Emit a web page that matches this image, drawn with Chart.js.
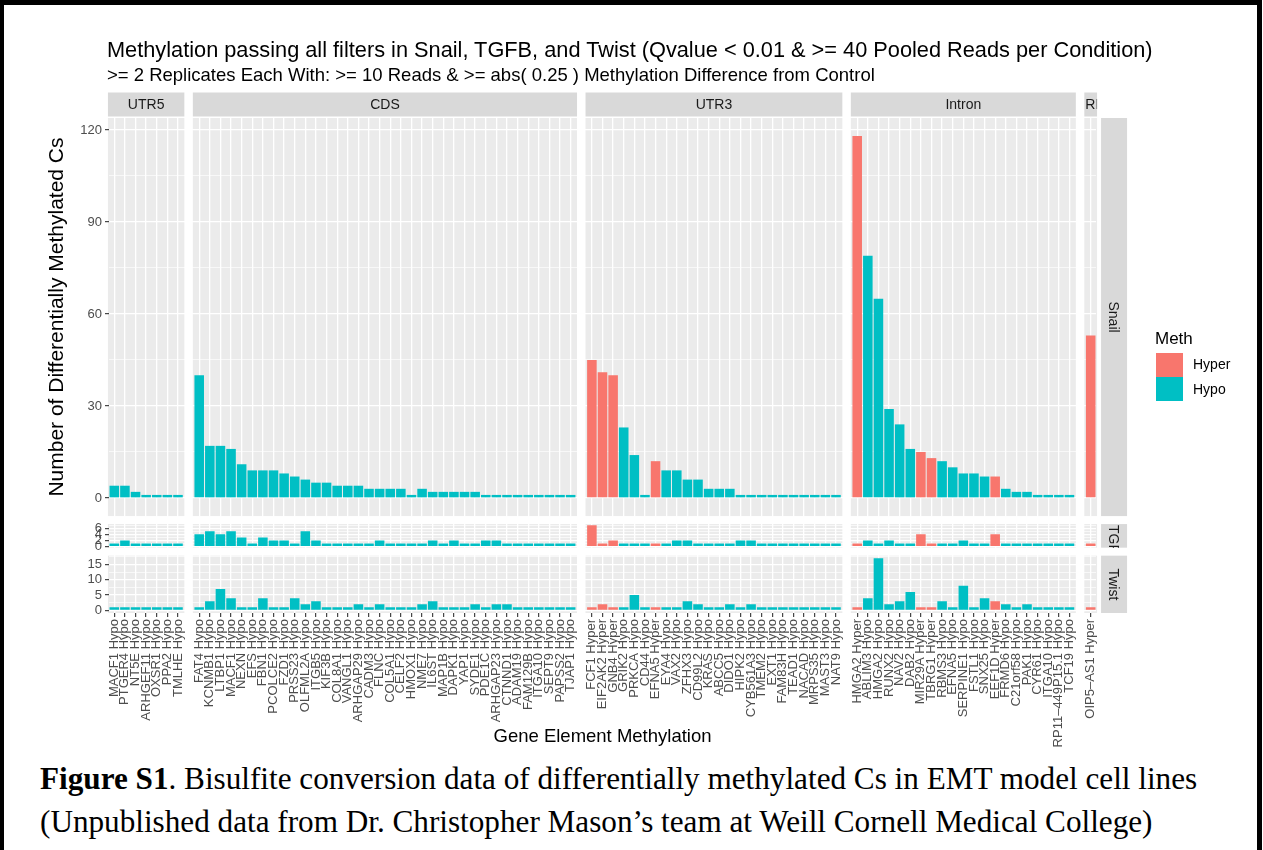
<!DOCTYPE html>
<html>
<head>
<meta charset="utf-8">
<title>Methylation passing all filters</title>
<script src="https://cdn.jsdelivr.net/npm/chart.js@4.4.1/dist/chart.umd.min.js"></script>
<style>
  body { margin: 0; background: #fff; }
  #page {
    position: relative; width: 1263px; height: 850px; overflow: hidden; background: #fff;
    font-family: "Liberation Sans", Arial, sans-serif;
  }
  #frame {
    position: absolute; left: 0; top: 0; width: 1253px; height: 860px;
    border-top: 5px solid #000; border-left: 4px solid #000; border-right: 5px solid #000;
    pointer-events: none;
  }
  #methChart { position: absolute; left: 0; top: 0; }
  .txt { position: absolute; white-space: nowrap; line-height: 1; color: #000; }
  #title { left: 107px; top: 39px; font-size: 21.75px; }
  #subtitle { left: 107px; top: 66px; font-size: 18.5px; }
  #legendTitle { left: 1155px; top: 330px; font-size: 17px; }
  .key { position: absolute; left: 1156px; width: 27px; height: 24px; }
  .keyLabel { left: 1193px; font-size: 14px; }
  .caption { position: absolute; left: 40px; white-space: nowrap; line-height: 1;
    font-family: "Liberation Serif", "Times New Roman", serif; font-size: 31.2px; color: #000; }
</style>
</head>
<body>
<div id="page">
  <canvas id="methChart" width="1263" height="752" style="width:1263px;height:752px"></canvas>
  <div class="txt" id="title">Methylation passing all filters in Snail, TGFB, and Twist (Qvalue &lt; 0.01 &amp; &gt;= 40 Pooled Reads per Condition)</div>
  <div class="txt" id="subtitle">&gt;= 2 Replicates Each With: &gt;= 10 Reads &amp; &gt;= abs( 0.25 ) Methylation Difference from Control</div>
  <div class="txt" id="legendTitle">Meth</div>
  <div class="key" id="keyHyper" style="top:353px"></div>
  <div class="key" id="keyHypo" style="top:377px"></div>
  <div class="txt keyLabel" style="top:357px">Hyper</div>
  <div class="txt keyLabel" style="top:382px">Hypo</div>
  <div class="caption" style="top:763px"><b>Figure S1</b>. Bisulfite conversion data of differentially methylated Cs in EMT model cell lines</div>
  <div class="caption" style="top:806px">(Unpublished data from Dr. Christopher Mason’s team at Weill Cornell Medical College)</div>
  <div id="frame"></div>
</div>
<script>
// counts of differentially methylated Cs, one array per gene element and cell line
const utr5Genes = ["MACF1 Hypo", "PTGER4 Hypo", "NT5E Hypo", "ARHGEF11 Hypo", "OXSR1 Hypo", "PPA2 Hypo", "TMLHE Hypo"];
const utr5Snail = [4, 4, 2, 1, 1, 1, 1];
const utr5Tgfb = [1, 2, 1, 1, 1, 1, 1];
const utr5Twist = [1, 1, 1, 1, 1, 1, 1];

const cdsGenes = ["FAT4 Hypo", "KCNMB1 Hypo", "LTBP1 Hypo", "MACF1 Hypo", "NEXN Hypo", "EFS Hypo",
  "FBN1 Hypo", "PCOLCE2 Hypo", "FZD1 Hypo", "PRSS23 Hypo", "OLFML2A Hypo", "ITGB5 Hypo",
  "KIF3B Hypo", "COL8A1 Hypo", "VANGL1 Hypo", "ARHGAP29 Hypo", "CADM3 Hypo", "FLNC Hypo",
  "COL5A1 Hypo", "CELF2 Hypo", "HMOX1 Hypo", "NME7 Hypo", "IL6ST Hypo", "MAP1B Hypo",
  "DAPK1 Hypo", "YAP1 Hypo", "SYDE1 Hypo", "PDE1C Hypo", "ARHGAP23 Hypo", "CTNND1 Hypo",
  "ADAM19 Hypo", "FAM129B Hypo", "ITGA10 Hypo", "SEPT9 Hypo", "PAPSS2 Hypo", "TJAP1 Hypo"];
const cdsSnail = [40, 17, 17, 16, 11, 9, 9, 9, 8, 7, 6, 5, 5, 4, 4, 4, 3, 3, 3, 3, 1, 3, 2, 2, 2, 2, 2, 1, 1, 1, 1, 1, 1, 1, 1, 1];
const cdsTgfb = [4, 5, 4, 5, 3, 1, 3, 2, 2, 1, 5, 2, 1, 1, 1, 1, 1, 2, 1, 1, 1, 1, 2, 1, 2, 1, 1, 2, 2, 1, 1, 1, 1, 1, 1, 1];
const cdsTwist = [1, 3, 7, 4, 1, 1, 4, 1, 1, 4, 2, 3, 1, 1, 1, 2, 1, 2, 1, 1, 1, 2, 3, 1, 1, 1, 2, 1, 2, 2, 1, 1, 1, 1, 1, 1];

const utr3Genes = ["FCF1 Hyper", "EIF2AK2 Hyper", "GNB4 Hyper", "GRIK2 Hypo", "PRKCA Hypo", "CD44 Hypo",
  "EFNA5 Hyper", "EYA4 Hypo", "VAX2 Hypo", "ZFHX3 Hypo", "CD99L2 Hypo", "KRAS Hypo",
  "ABCC5 Hypo", "DIDO1 Hypo", "HIPK2 Hypo", "CYB561A3 Hypo", "TMEM2 Hypo", "EXT1 Hypo",
  "FAM83H Hypo", "TEAD1 Hypo", "NACAD Hypo", "MRPS35 Hypo", "MAST3 Hypo", "NAT9 Hypo"];
const utr3Snail = [45, 41, 40, 23, 14, 1, 12, 9, 9, 6, 6, 3, 3, 3, 1, 1, 1, 1, 1, 1, 1, 1, 1, 1];
const utr3Tgfb = [7, 1, 2, 1, 1, 1, 1, 1, 2, 2, 1, 1, 1, 1, 2, 2, 1, 1, 1, 1, 1, 1, 1, 1];
const utr3Twist = [1, 2, 1, 1, 5, 1, 1, 1, 1, 3, 2, 1, 1, 2, 1, 2, 1, 1, 1, 1, 1, 1, 1, 1];

const intronGenes = ["HMGA2 Hyper", "ABLIM3 Hypo", "HMGA2 Hypo", "RUNX2 Hypo", "NAV2 Hypo", "DAB2 Hypo",
  "MIR29A Hyper", "TBRG1 Hyper", "RBMS3 Hypo", "EFNA5 Hypo", "SERPINE1 Hypo", "FSTL1 Hypo",
  "SNX25 Hypo", "EEF1D Hyper", "FRMD6 Hypo", "C21orf58 Hypo", "PAK1 Hypo", "CYR61 Hypo",
  "ITGA10 Hypo", "RP11–449P15.1 Hypo", "TCF19 Hypo"];
const intronSnail = [118, 79, 65, 29, 24, 16, 15, 13, 12, 10, 8, 8, 7, 7, 3, 2, 2, 1, 1, 1, 1];
const intronTgfb = [1, 2, 1, 2, 1, 1, 4, 1, 1, 1, 2, 1, 1, 4, 1, 1, 1, 1, 1, 1, 1];
const intronTwist = [1, 4, 17, 2, 3, 6, 1, 1, 3, 1, 8, 1, 4, 3, 2, 1, 2, 1, 1, 1, 1];

const rnaGenes = ["OIP5–AS1 Hyper"];
const rnaSnail = [53];
const rnaTgfb = [1];
const rnaTwist = [1];

const snailBreaks = [0, 30, 60, 90, 120];
const tgfbBreaks = [0, 2, 4, 6];
const twistBreaks = [0, 5, 10, 15];

const HYPER = "#F8766D";
const HYPO = "#00BFC4";
const PANEL = "#EBEBEB";
const STRIP = "#D9D9D9";
const NONE = "rgba(0,0,0,0)";

const CANVAS_H = 752;
const PLOT_TOP = 118;
const PLOT_BOTTOM = 613;
const AXIS_W = 109;
const GAP_UNITS = 2.6;   // white space between the cell line rows

document.getElementById("keyHyper").style.background = HYPER;
document.getElementById("keyHypo").style.background = HYPO;

const facets = [
  { name: "UTR5", genes: utr5Genes, cells: [utr5Snail, utr5Tgfb, utr5Twist] },
  { name: "CDS", genes: cdsGenes, cells: [cdsSnail, cdsTgfb, cdsTwist] },
  { name: "UTR3", genes: utr3Genes, cells: [utr3Snail, utr3Tgfb, utr3Twist] },
  { name: "Intron", genes: intronGenes, cells: [intronSnail, intronTgfb, intronTwist] },
  { name: "RNA", genes: rnaGenes, cells: [rnaSnail, rnaTgfb, rnaTwist] }
];

// one category axis for all facets, an empty slot between neighbouring facets
const labels = [];
const spans = [];
const rowData = [[], [], []];
facets.forEach((f, i) => {
  if (i > 0) {
    labels.push("");
    rowData.forEach(r => r.push(null));
  }
  spans.push({ name: f.name, start: labels.length, count: f.genes.length });
  labels.push(...f.genes);
  f.cells.forEach((vals, r) => rowData[r].push(...vals));
});

const barColors = labels.map(l => l === "" ? NONE : (l.endsWith("Hyper") ? HYPER : HYPO));

const rows = [
  { id: "ySnail", name: "Snail", values: rowData[0], breaks: snailBreaks },
  { id: "yTgfb", name: "TGFB", values: rowData[1], breaks: tgfbBreaks },
  { id: "yTwist", name: "Twist", values: rowData[2], breaks: twistBreaks }
];
rows.forEach((row, i) => {
  row.max = Math.max(...row.values.filter(v => v !== null));
  row.lo = -0.05 * row.max;
  row.hi = 1.05 * row.max;
  // major breaks plus the midpoints between them that fall inside the panel
  const step = row.breaks[1] - row.breaks[0];
  const minor = [];
  for (let v = row.breaks[0] - step / 2; v <= row.hi; v += step) {
    if (v >= row.lo) minor.push(v);
  }
  row.ticks = row.breaks.concat(minor).sort((a, b) => a - b);
  row.gap = i === 0 ? 0 : GAP_UNITS;
});

function isMajor(row, v) {
  return row.breaks.some(b => Math.abs(b - v) < 1e-9);
}

function rowAxis(row, i) {
  const axis = {
    type: "linear",
    position: "left",
    stack: "cells",
    stackWeight: row.hi - row.lo + row.gap,
    weight: 3 - i,
    min: row.lo,
    max: row.hi + row.gap,
    afterFit: s => { s.width = AXIS_W; },
    afterBuildTicks: s => { s.ticks = row.ticks.map(v => ({ value: v })); },
    border: { display: false },
    grid: {
      color: "#ffffff",
      lineWidth: c => isMajor(row, c.tick.value) ? 1.3 : 0.65,
      tickColor: c => isMajor(row, c.tick.value) ? "#333333" : NONE,
      tickLength: 4,
      tickWidth: 1.1
    },
    ticks: {
      autoSkip: false,
      color: "#4D4D4D",
      font: { size: 13 },
      padding: 3,
      callback: v => isMajor(row, v) ? String(v) : ""
    }
  };
  if (i === 0) {
    axis.title = {
      display: true,
      text: "Number of Differentially Methylated Cs",
      color: "#000",
      font: { size: 21 },
      padding: { top: 45, bottom: 0 }
    };
  }
  return axis;
}

// centred label, or pinned to the start of the strip when it does not fit
function stripText(ctx, text, start, length) {
  const w = ctx.measureText(text).width;
  return w > length ? start + w / 2 + 1 : start + length / 2;
}

// grey panels and facet strips behind the grid
const facetPanels = {
  id: "facetPanels",
  beforeDraw(chart) {
    const { ctx, chartArea, scales } = chart;
    const x = scales.x;
    const slot = x.getPixelForValue(1) - x.getPixelForValue(0);
    ctx.save();
    ctx.font = '14px "Liberation Sans"';
    ctx.textAlign = "center";
    ctx.textBaseline = "middle";
    let panelRight = 0;
    spans.forEach(sp => {
      const l = x.getPixelForValue(sp.start) - 0.6 * slot;
      const r = x.getPixelForValue(sp.start + sp.count - 1) + 0.6 * slot;
      panelRight = r;
      rows.forEach(row => {
        const ys = scales[row.id];
        const t = ys.getPixelForValue(row.hi);
        const b = ys.getPixelForValue(row.lo);
        ctx.fillStyle = PANEL;
        ctx.fillRect(l, t, r - l, b - t);
      });
      const st = chartArea.top - 25.5;
      ctx.fillStyle = STRIP;
      ctx.fillRect(l, st, r - l, 24);
      ctx.save();
      ctx.beginPath();
      ctx.rect(l, st, r - l, 24);
      ctx.clip();
      ctx.fillStyle = "#1A1A1A";
      ctx.fillText(sp.name, stripText(ctx, sp.name, l, r - l), st + 12.5);
      ctx.restore();
    });
    rows.forEach(row => {
      const ys = scales[row.id];
      const t = ys.getPixelForValue(row.hi);
      const b = ys.getPixelForValue(row.lo);
      const sl = panelRight + 4;
      ctx.fillStyle = STRIP;
      ctx.fillRect(sl, t, 26, b - t);
      ctx.save();
      ctx.beginPath();
      ctx.rect(sl, t, 26, b - t);
      ctx.clip();
      ctx.translate(sl + 13, stripText(ctx, row.name, t, b - t));
      ctx.rotate(Math.PI / 2);
      ctx.fillStyle = "#1A1A1A";
      ctx.fillText(row.name, 0, 1);
      ctx.restore();
    });
    ctx.restore();
  }
};

Chart.defaults.font.family = '"Liberation Sans", Arial, sans-serif';

const scales = {
  x: {
    type: "category",
    labels: labels,
    offset: true,
    afterFit: s => { s.height = CANVAS_H - PLOT_BOTTOM; },
    border: { display: false },
    grid: {
      offset: false,
      color: c => labels[c.index] ? "#ffffff" : NONE,
      lineWidth: 1.3,
      tickColor: c => labels[c.index] ? "#333333" : NONE,
      tickLength: 4,
      tickWidth: 1.1
    },
    ticks: {
      autoSkip: false,
      minRotation: 90,
      maxRotation: 90,
      color: "#4D4D4D",
      font: { size: 13 },
      padding: 2
    },
    title: {
      display: true,
      text: "Gene Element Methylation",
      color: "#000",
      font: { size: 18.5 },
      padding: { top: 0, bottom: 4 }
    }
  }
};
rows.forEach((row, i) => { scales[row.id] = rowAxis(row, i); });

new Chart(document.getElementById("methChart"), {
  type: "bar",
  data: {
    labels: labels,
    datasets: rows.map(row => ({
      label: row.name,
      data: row.values,
      yAxisID: row.id,
      backgroundColor: barColors,
      borderWidth: 0,
      grouped: false,
      barPercentage: 0.9,
      categoryPercentage: 1.0
    }))
  },
  options: {
    responsive: false,
    animation: false,
    events: [],
    layout: { padding: { left: 0, top: PLOT_TOP, right: 1263 - 1096, bottom: 0 } },
    scales: scales,
    plugins: {
      legend: { display: false },
      tooltip: { enabled: false }
    }
  },
  plugins: [facetPanels]
});
</script>
</body>
</html>
